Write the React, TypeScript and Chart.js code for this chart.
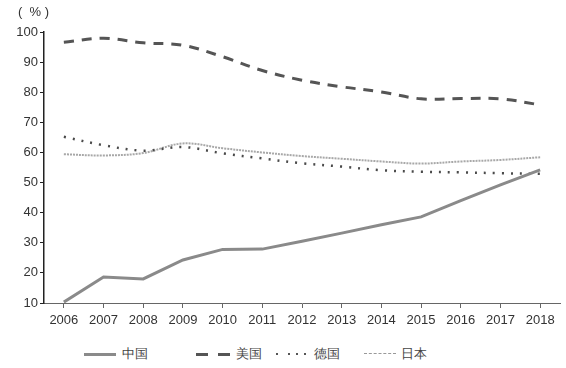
import React, { useEffect, useRef } from "react";
import { Chart, registerables } from "chart.js";

Chart.register(...registerables);

const years = ["2006", "2007", "2008", "2009", "2010", "2011", "2012", "2013", "2014", "2015", "2016", "2017", "2018"];
const china = [10.3, 18.6, 18.0, 24.3, 27.8, 27.9, 30.5, 33.2, 36.0, 38.6, 44.0, 49.2, 54.2];
const usa = [96.6, 97.9, 96.4, 95.6, 91.8, 87.2, 84.0, 81.8, 80.1, 77.8, 77.9, 77.8, 75.8];
const germany = [65.2, 62.4, 60.6, 61.8, 59.7, 58.0, 56.4, 55.3, 54.1, 53.6, 53.4, 53.1, 52.9];
const japan = [59.4, 59.0, 59.8, 63.0, 61.4, 60.0, 58.8, 57.9, 57.0, 56.3, 57.0, 57.5, 58.4];
const seriesNames = ["中国", "美国", "德国", "日本"];
const yTicks = [10, 20, 30, 40, 50, 60, 70, 80, 90, 100];

const FONT = "'Liberation Sans', Arial, sans-serif";

export default function App() {
  const ref = useRef<HTMLCanvasElement | null>(null);
  useEffect(() => {
    document.body.style.margin = "0";
    const ctx = ref.current!;
    const chart = new Chart(ctx, {
      type: "line",
      data: {
        labels: years,
        datasets: [
          { label: seriesNames[0], data: china, borderColor: "#8a8a8a", borderWidth: 3, pointRadius: 0, tension: 0, fill: false },
          { label: seriesNames[1], data: usa, borderColor: "#555555", borderWidth: 3, borderDash: [10, 8], pointRadius: 0, tension: 0.35, fill: false },
          { label: seriesNames[2], data: germany, borderColor: "#4a4a4a", borderWidth: 2.5, borderDash: [2, 7], pointRadius: 0, tension: 0.35, fill: false },
          { label: seriesNames[3], data: japan, borderColor: "#a8a8a8", borderWidth: 2, borderDash: [2, 1], pointRadius: 0, tension: 0.35, fill: false },
        ],
      },
      options: {
        animation: false,
        responsive: false,
        maintainAspectRatio: false,
        layout: { padding: { top: 32, right: 6, bottom: 7, left: 0 } },
        plugins: { legend: { display: false }, tooltip: { enabled: false } },
        scales: {
          x: {
            offset: true,
            grid: { display: true, drawOnChartArea: false, tickLength: 5, color: "#666", offset: false },
            border: { display: true, color: "#666", width: 1 },
            ticks: { color: "#333", font: { family: FONT, size: 13 }, padding: 5, maxRotation: 0, autoSkip: false },
            afterFit: (s: any) => { s.height = 30; },
          },
          y: {
            min: 10,
            max: 100,
            afterBuildTicks: (s: any) => { s.ticks = yTicks.map((v) => ({ value: v })); },
            grid: { display: true, drawOnChartArea: false, tickLength: 4, color: "#222" },
            border: { display: true, color: "#222", width: 1.5 },
            ticks: { color: "#333", font: { family: FONT, size: 13 }, padding: 2 },
            afterFit: (s: any) => { s.width = 44; },
          },
        },
      },
    });
    return () => chart.destroy();
  }, []);

  const lbl: React.CSSProperties = { position: "absolute", top: 345, fontFamily: FONT, fontSize: 13, color: "#444", lineHeight: "18px" };
  const seg = (left: number, width: number, h: number, color: string): React.CSSProperties => ({
    position: "absolute", left, top: 354 - h / 2, width, height: h, background: color,
  });

  return (
    <div style={{ position: "absolute", left: 0, top: 0, width: 566, height: 368, background: "#fff", overflow: "hidden" }}>
      <canvas ref={ref} width={566} height={340} style={{ position: "absolute", left: 0, top: 0, width: 566, height: 340 }} />
      <div style={{ position: "absolute", left: 18, top: 4, fontFamily: FONT, fontSize: 13, color: "#333", whiteSpace: "pre" }}>(  % )</div>
      <div style={seg(84, 32, 3, "#8a8a8a")} />
      <div style={{ ...lbl, left: 122 }}>{seriesNames[0]}</div>
      <div style={seg(196, 12, 3, "#555")} />
      <div style={seg(218, 12, 3, "#555")} />
      <div style={{ ...lbl, left: 236 }}>{seriesNames[1]}</div>
      {[276, 288, 296, 304].map((x) => <div key={x} style={seg(x, 2, 2, "#555")} />)}
      <div style={{ ...lbl, left: 314 }}>{seriesNames[2]}</div>
      <div style={{ position: "absolute", left: 364, top: 353, width: 32, height: 0, borderTop: "1px dashed #999" }} />
      <div style={{ ...lbl, left: 401 }}>{seriesNames[3]}</div>
    </div>
  );
}
